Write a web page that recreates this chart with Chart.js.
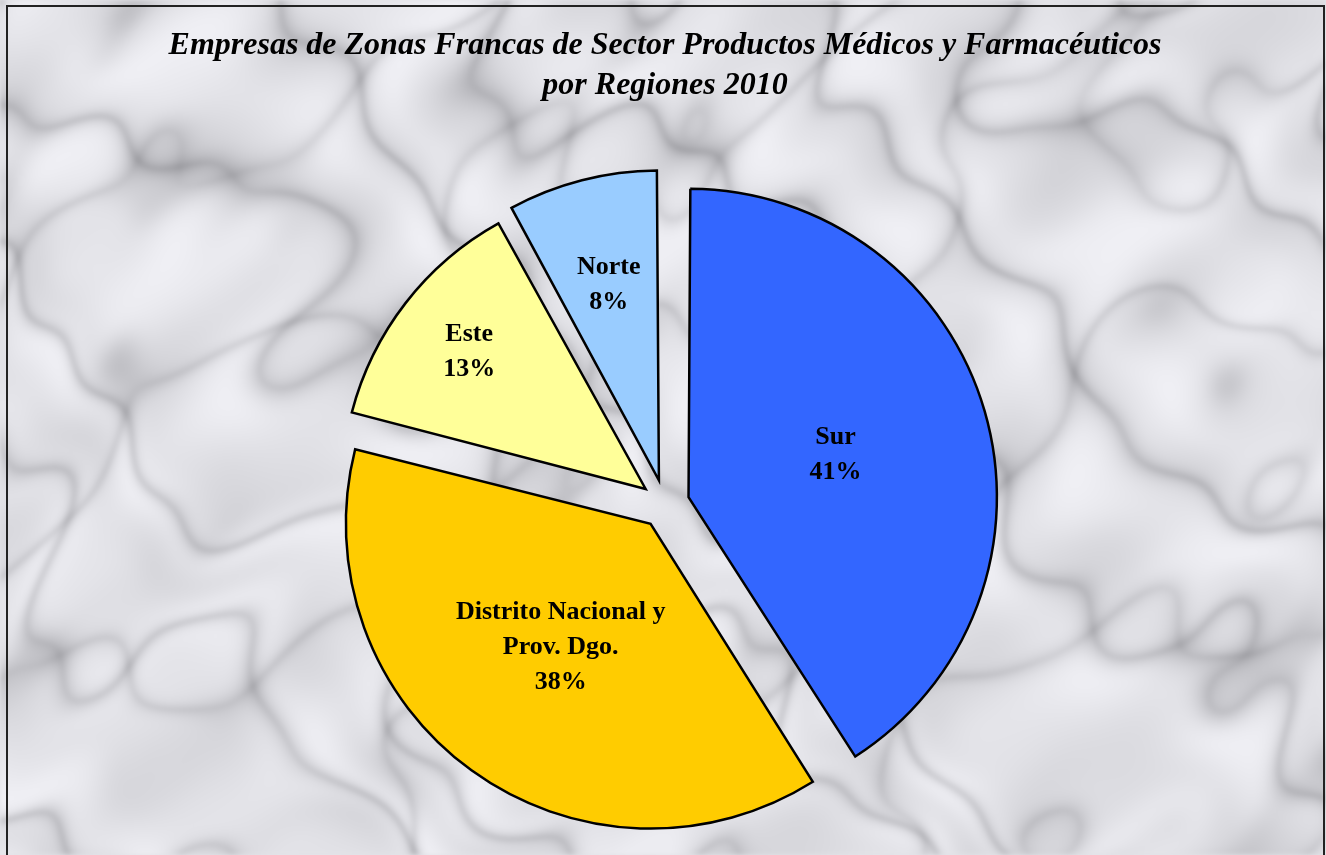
<!DOCTYPE html>
<html>
<head>
<meta charset="utf-8">
<script src="https://cdn.jsdelivr.net/npm/chart.js@4.4.1/dist/chart.umd.min.js"></script>
<style>
  html, body { margin:0; padding:0; width:1326px; height:855px; overflow:hidden; background:#e4e4e8; }
  #marble { position:absolute; left:0; top:0; }
  #frame { position:absolute; left:6px; top:5px; width:1319px; height:870px; border:2px solid #222; box-sizing:border-box; }
  #wrap { position:absolute; left:0; top:0; width:1326px; height:855px; }
</style>
</head>
<body>
<canvas id="marble" width="1326" height="855"></canvas>
<div id="frame"></div>
<div id="wrap"><canvas id="chart"></canvas></div>
<script>
// ======= Data =======
const categories = ['Sur', 'Distrito Nacional y Prov. Dgo.', 'Este', 'Norte'];
const labelLines = [['Sur'], ['Distrito Nacional y', 'Prov. Dgo.'], ['Este'], ['Norte']];
const percents = [41, 38, 13, 8];
const sliceColors = ['#3366FF', '#FFCC00', '#FFFF99', '#99CCFF'];
const labelRadius = [0.5, 0.5, 0.73, 0.66]; // fraction of radius where label sits
const titleLines = ['Empresas de Zonas Francas de Sector Productos Médicos y Farmacéuticos', 'por Regiones 2010'];

// ======= Style =======
const SERIF = "'Liberation Serif', 'Times New Roman', serif";
const RADIUS = 297;   // chart.js grows exploded arcs a little, so a bit under 306
const EXPLODE = 24.5; // px each slice is pulled out (arc translates by offset/4)

// ======= Marble backdrop (deterministic sine turbulence, soft) =======
(function drawMarble(){
  const c = document.getElementById('marble');
  const W = c.width, H = c.height;
  const off = document.createElement('canvas');
  off.width = W; off.height = H;
  const o = off.getContext('2d');
  const img = o.createImageData(W, H);
  const d = img.data;
  const turb = (x, y) =>
    Math.sin(x * 0.013 + Math.sin(y * 0.011) * 1.5) * 0.8 +
    Math.sin(y * 0.019 + Math.sin(x * 0.023) * 1.2) * 0.5 +
    Math.sin((x + y) * 0.041 + Math.sin(x * 0.009) * 1.8) * 0.25;
  for (let y = 0; y < H; y++) {
    for (let x = 0; x < W; x++) {
      const t = turb(x, y);
      const v1 = Math.abs(Math.sin((x * 0.7 - y * 0.7) * 0.018 + t * 1.3));
      const v2 = Math.abs(Math.sin((x * 0.5 + y * 0.87) * 0.014 + t * 1.1));
      const vein = Math.pow(1 - v1, 4) * 0.7 + Math.pow(1 - v2, 5) * 0.5;
      const blot = 0.5 + 0.5 * Math.sin(x * 0.027 + t * 1.4) * Math.sin(y * 0.031 - t * 1.1);
      const gray = 240 - 55 * vein - 24 * blot;
      const i = (y * W + x) * 4;
      d[i] = gray - 1; d[i + 1] = gray - 1; d[i + 2] = gray + 4; d[i + 3] = 255;
    }
  }
  o.putImageData(img, 0, 0);
  const g = c.getContext('2d');
  g.filter = 'blur(2px)';
  g.drawImage(off, 0, 0);
})();

const sliceLabels = {
  id: 'sliceLabels',
  afterDatasetsDraw(chart) {
    const ctx = chart.ctx;
    const meta = chart.getDatasetMeta(0);
    ctx.save();
    ctx.font = `bold 26px ${SERIF}`;
    ctx.fillStyle = '#000';
    ctx.textAlign = 'center';
    ctx.textBaseline = 'middle';
    meta.data.forEach((arc, i) => {
      const p = arc.getProps(['x', 'y', 'startAngle', 'endAngle'], true);
      const mid = (p.startAngle + p.endAngle) / 2;
      const d = EXPLODE + 306 * labelRadius[i];
      const cx = p.x + Math.cos(mid) * d;
      const cy = p.y + Math.sin(mid) * d;
      const lines = labelLines[i].concat([percents[i] + '%']);
      const lh = 35;
      lines.forEach((t, k) => {
        ctx.fillText(t, cx, cy + (k - (lines.length - 1) / 2) * lh);
      });
    });
    ctx.restore();
  }
};

new Chart(document.getElementById('chart'), {
  type: 'pie',
  data: {
    labels: categories,
    datasets: [{
      data: percents,
      backgroundColor: sliceColors,
      borderColor: '#000',
      borderWidth: 2.5,
      borderJoinStyle: 'miter',
      offset: EXPLODE * 4,
      hoverOffset: 0
    }]
  },
  options: {
    responsive: true,
    maintainAspectRatio: false,
    animation: false,
    radius: RADIUS,
    layout: { padding: { top: 23, left: 4, right: 0, bottom: 0 } },
    plugins: {
      legend: { display: false },
      tooltip: { enabled: false },
      title: {
        display: true,
        text: titleLines,
        color: '#000',
        font: { family: SERIF, size: 32, weight: 'bold', style: 'italic', lineHeight: 40 / 32 },
        padding: { top: 3, bottom: 47 }
      }
    }
  },
  plugins: [sliceLabels]
});
</script>
</body>
</html>
